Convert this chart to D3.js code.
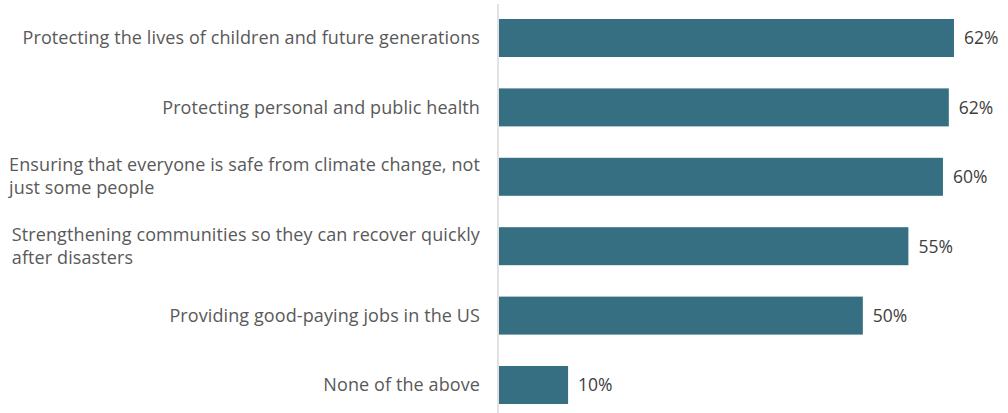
<!DOCTYPE html>
<html>
<head>
<meta charset="utf-8">
<script src="https://cdn.jsdelivr.net/npm/d3@7"></script>
<style>
  html, body { margin: 0; padding: 0; background: #fff; }
  svg { display: block; font-family: "Open Sans", sans-serif; }
</style>
</head>
<body>
<svg id="chart" width="1008" height="413"></svg>
<script>
// Data
const categories = [
  ["Protecting the lives of children and future generations"],
  ["Protecting personal and public health"],
  ["Ensuring that everyone is safe from climate change, not", "just some people"],
  ["Strengthening communities so they can recover quickly", "after disasters"],
  ["Providing good-paying jobs in the US"],
  ["None of the above"]
];
const values = [61.9, 61.2, 60.4, 55.7, 49.5, 9.4];
const valueLabels = ["62%", "62%", "60%", "55%", "50%", "10%"];

const svg = d3.select("#chart");
const W = 1008, H = 413;
const x0 = 499;

const keys = categories.map((c, i) => i);
const x = d3.scaleLinear().domain([0, 65]).range([x0, x0 + 65 * 7.35]);
const y = d3.scaleBand().domain(keys).range([3.3, 419.7])
  .paddingInner(0.4524).paddingOuter(0.2262);

// bars
svg.append("g").selectAll("rect").data(values).join("rect")
  .attr("x", x(0))
  .attr("y", (d, i) => y(i))
  .attr("width", d => x(d) - x(0))
  .attr("height", y.bandwidth())
  .attr("fill", "#366f81");

// axis line
svg.append("line")
  .attr("x1", 498).attr("x2", 498)
  .attr("y1", 4).attr("y2", H)
  .attr("stroke", "#d9d9d9").attr("stroke-width", 1.5);

// value labels
svg.append("g").selectAll("text").data(values).join("text")
  .attr("x", d => x(d) + 10)
  .attr("y", (d, i) => y(i) + y.bandwidth() / 2)
  .attr("dy", "0.36em")
  .attr("font-size", 17.5)
  .attr("fill", "#404040")
  .text((d, i) => valueLabels[i]);

// category labels
const labelRight = 480;
const lg = svg.append("g");
categories.forEach((lines, i) => {
  const cy = y(i) + y.bandwidth() / 2;
  const t = lg.append("text")
    .attr("font-size", 18)
    .attr("letter-spacing", 0.1)
    .attr("fill", "#595959");
  if (lines.length === 1) {
    t.attr("x", labelRight).attr("y", cy).attr("dy", "0.35em")
      .attr("text-anchor", "end").text(lines[0]);
  } else {
    const spans = lines.map((ln, j) => t.append("tspan")
      .attr("y", cy + 5.8 - 11.5 + j * 23)
      .text(ln));
    const w = d3.max(spans, s => s.node().getComputedTextLength());
    spans.forEach(s => s.attr("x", labelRight - w));
  }
});
</script>
</body>
</html>
